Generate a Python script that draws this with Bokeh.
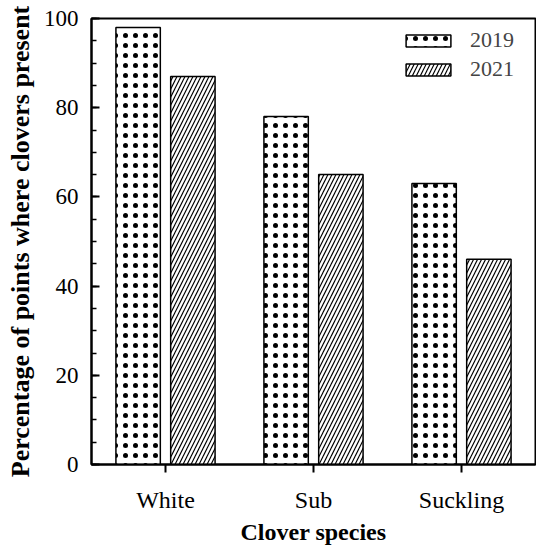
from bokeh.plotting import figure
from bokeh.models import (FactorRange, ColumnDataSource, SingleIntervalTicker,
                          Legend, LegendItem, Range1d)
from bokeh.transform import dodge
from bokeh.embed import file_html
from bokeh.resources import INLINE

species = ["White", "Sub", "Suckling"]
years = ["2019", "2021"]
y2019 = [98, 78, 63]
y2021 = [87, 65, 46]

src = ColumnDataSource(dict(species=species, y2019=y2019, y2021=y2021))

FONT = "Liberation Serif"

p = figure(width=536, height=549, x_range=FactorRange(*species, range_padding=0),
           y_range=Range1d(0, 100), output_backend="svg", toolbar_location=None,
           min_border_left=91, min_border_right=1, min_border_top=18, min_border_bottom=85)

p.grid.visible = False
p.outline_line_color = "black"
p.outline_line_width = 2
p.background_fill_color = "white"
p.border_fill_color = "white"

r1 = p.vbar(x=dodge("species", -0.185, range=p.x_range), top="y2019", width=0.3,
            source=src, fill_color="white", line_color="black", line_width=1.5,
            hatch_pattern="dot", hatch_color="black", hatch_scale=10, hatch_weight=0.4)
r2 = p.vbar(x=dodge("species", 0.185, range=p.x_range), top="y2021", width=0.3,
            source=src, fill_color="white", line_color="black", line_width=1.5,
            hatch_pattern="right_diagonal_line", hatch_color="black", hatch_scale=8,
            hatch_weight=1.2)

legend = Legend(items=[LegendItem(label=years[0], renderers=[r1]),
                       LegendItem(label=years[1], renderers=[r2])],
                location="top_right", border_line_color=None, background_fill_alpha=0,
                margin=9, padding=0, spacing=3, glyph_width=56, glyph_height=15,
                label_standoff=14, label_width=56, label_text_font=FONT,
                label_text_font_size="22px", label_height=20)
p.add_layout(legend)

ya = p.yaxis[0]
ya.ticker = SingleIntervalTicker(interval=20, num_minor_ticks=4)
ya.major_tick_in = 8
ya.major_tick_out = 0
ya.minor_tick_in = 5
ya.minor_tick_out = 0
ya.axis_line_width = 2
ya.major_tick_line_width = 2
ya.minor_tick_line_width = 1.5
ya.major_label_text_font = FONT
ya.major_label_text_font_size = "23px"
ya.major_label_text_color = "black"
ya.major_label_standoff = 13
ya.axis_label = "Percentage of points where clovers present"
ya.axis_label_text_font = FONT
ya.axis_label_text_font_size = "26px"
ya.axis_label_text_font_style = "bold"
ya.axis_label_text_color = "black"
ya.axis_label_standoff = 6

xa = p.xaxis[0]
xa.major_tick_in = 0
xa.major_tick_out = 8
xa.axis_line_width = 2
xa.major_tick_line_width = 2
xa.major_label_text_font = FONT
xa.major_label_text_font_size = "24px"
xa.major_label_text_color = "black"
xa.major_label_standoff = 14
xa.axis_label = "Clover species"
xa.axis_label_text_font = FONT
xa.axis_label_text_font_size = "24px"
xa.axis_label_text_font_style = "bold"
xa.axis_label_text_color = "black"
xa.axis_label_standoff = 3

open("out.html", "w").write(file_html(p, INLINE))
